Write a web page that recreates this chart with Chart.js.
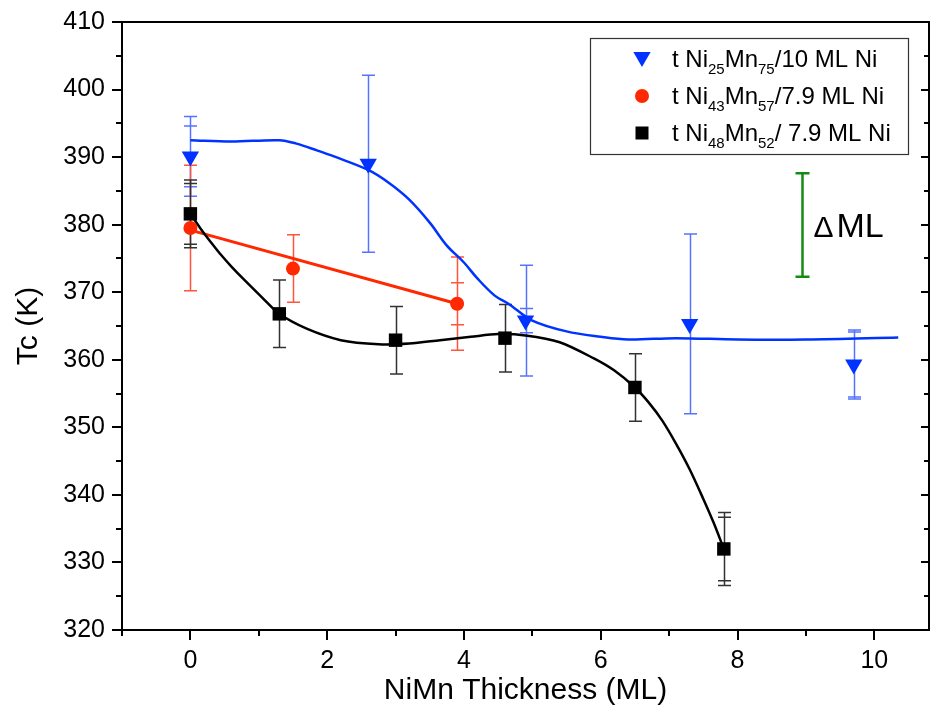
<!DOCTYPE html>
<html>
<head>
<meta charset="utf-8">
<script src="https://cdn.jsdelivr.net/npm/chart.js@4/dist/chart.umd.min.js"></script>
<style>
  html, body { margin: 0; padding: 0; background: #fff; }
  canvas { display: block; }
</style>
</head>
<body>
<canvas id="c" width="939" height="722"></canvas>
<script>
// ---------------- data ----------------
const xTickValues = [0, 2, 4, 6, 8, 10];
const xMinorTicks = [-1, 1, 3, 5, 7, 9];
const yTickValues = [320, 330, 340, 350, 360, 370, 380, 390, 400, 410];
const yMinorTicks = [325, 335, 345, 355, 365, 375, 385, 395, 405];

// t Ni25Mn75 / 10 ML Ni  (blue triangles)
const blueX    = [0, 2.6, 4.9, 7.3, 9.7];
const blueY    = [390.1, 389.0, 365.8, 365.3, 359.3];
const blueErr  = [5.9, 13.1, 8.2, 13.3, 5.1];
const blueErr2 = [4.5, 0, 1.8, 0, 4.8];

// t Ni43Mn57 / 7.9 ML Ni  (red circles)
const redX    = [0, 1.5, 3.9];
const redY    = [379.5, 373.5, 368.3];
const redErr  = [9.3, 5.0, 6.9];
const redErr2 = [0, 0, 3.1];

// t Ni48Mn52 / 7.9 ML Ni  (black squares)
const blackX    = [0, 1.3, 3.0, 4.6, 6.5, 7.8];
const blackY    = [381.6, 366.8, 362.9, 363.2, 355.9, 332.0];
const blackErr  = [5.0, 5.0, 5.0, 5.0, 5.0, 5.4];
const blackErr2 = [4.5, 0, 0, 0, 0, 4.7];

// guide-to-the-eye curves
const blueFitX = [0, 0.6, 1.3, 1.55, 1.85, 2.1, 2.6, 2.9, 3.2, 3.5, 3.75, 4.0, 4.2, 4.45, 4.65, 5.0, 5.5, 6.0, 6.4, 7.1, 8.0, 9.0, 10.35];
const blueFitY = [392.5, 392.3, 392.5, 392.0, 391.0, 390.1, 388.1, 386.2, 383.7, 380.3, 376.9, 374.4, 372.0, 369.5, 368.3, 365.8, 364.2, 363.4, 363.0, 363.2, 363.0, 363.0, 363.3];

const blackFitX = [0, 0.15, 0.3, 0.45, 0.6, 0.8, 1.05, 1.3, 1.7, 2.2, 2.75, 3.2, 3.65, 4.1, 4.5, 4.9, 5.4, 5.9, 6.2, 6.5, 6.7, 6.9, 7.1, 7.3, 7.5, 7.65, 7.8];
const blackFitY = [381.6, 379.4, 377.4, 375.5, 373.8, 371.7, 369.2, 366.8, 364.6, 362.9, 362.3, 362.4, 362.9, 363.4, 363.8, 363.6, 362.6, 360.2, 358.4, 355.9, 353.7, 351.0, 347.6, 343.8, 339.4, 335.9, 332.0];

const redFitX = [0, 3.9];
const redFitY = [379.2, 368.3];

// ΔML scale bar
const deltaX = 8.95;
const deltaRange = [372.3, 387.6];
const deltaLabel = ['Δ', 'ML'];

// legend labels: [normal, sub, normal, sub, normal]
const legendLabels = [
  ['t Ni', '25', 'Mn', '75', '/10 ML Ni'],
  ['t Ni', '43', 'Mn', '57', '/7.9 ML Ni'],
  ['t Ni', '48', 'Mn', '52', '/ 7.9 ML Ni']
];
const xTitle = 'NiMn Thickness (ML)';
const yTitle = 'Tc (K)';

// ---------------- styles ----------------
const BLUE = 'rgb(0,51,255)', BLUE_ERR = 'rgb(85,115,255)';
const RED = 'rgb(255,40,0)', RED_ERR = 'rgb(255,85,60)';
const BLACK = 'rgb(0,0,0)', BLACK_ERR = 'rgb(50,50,50)';
const GREEN = 'rgb(20,140,20)';
const FONT = "'Liberation Sans', Arial, sans-serif";

const pts = (xs, ys) => xs.map((x, i) => ({ x: x, y: ys[i] }));

const errSeries = [
  { xs: blueX, ys: blueY, e: blueErr, e2: blueErr2, color: BLUE_ERR },
  { xs: redX, ys: redY, e: redErr, e2: redErr2, color: RED_ERR },
  { xs: blackX, ys: blackY, e: blackErr, e2: blackErr2, color: BLACK_ERR }
];

const errorBarPlugin = {
  id: 'errorBars',
  beforeDatasetsDraw(chart) {
    const { ctx, scales: { x, y } } = chart;
    ctx.save();
    ctx.lineWidth = 1.5;
    const cap = 6.5;
    errSeries.forEach(s => {
      ctx.strokeStyle = s.color;
      s.xs.forEach((xv, i) => {
        const px = Math.round(x.getPixelForValue(xv)) + 0.5;
        const top = y.getPixelForValue(s.ys[i] + s.e[i]);
        const bot = y.getPixelForValue(s.ys[i] - s.e[i]);
        ctx.beginPath();
        ctx.moveTo(px, top); ctx.lineTo(px, bot);
        ctx.moveTo(px - cap, top); ctx.lineTo(px + cap, top);
        ctx.moveTo(px - cap, bot); ctx.lineTo(px + cap, bot);
        if (s.e2[i] > 0) {
          const t2 = y.getPixelForValue(s.ys[i] + s.e2[i]);
          const b2 = y.getPixelForValue(s.ys[i] - s.e2[i]);
          ctx.moveTo(px - cap, t2); ctx.lineTo(px + cap, t2);
          ctx.moveTo(px - cap, b2); ctx.lineTo(px + cap, b2);
        }
        ctx.stroke();
      });
    });
    ctx.restore();
  }
};

function drawMarker(ctx, type, cx, cy, color) {
  ctx.fillStyle = color;
  ctx.beginPath();
  if (type === 'tri') {
    const r = 10;
    ctx.moveTo(cx, cy + r);
    ctx.lineTo(cx - r * Math.sqrt(3) / 2, cy - r / 2);
    ctx.lineTo(cx + r * Math.sqrt(3) / 2, cy - r / 2);
    ctx.closePath();
  } else if (type === 'circle') {
    ctx.arc(cx, cy, 7, 0, Math.PI * 2);
  } else {
    ctx.rect(cx - 6.5, cy - 6.5, 13, 13);
  }
  ctx.fill();
}

const framePlugin = {
  id: 'frame',
  afterDraw(chart) {
    const { ctx, chartArea: a, scales: { x, y } } = chart;
    ctx.save();
    ctx.strokeStyle = '#000';
    ctx.lineWidth = 2;
    ctx.strokeRect(a.left, a.top, a.right - a.left, a.bottom - a.top);
    ctx.beginPath();
    xTickValues.forEach(v => {
      const px = Math.round(x.getPixelForValue(v));
      ctx.moveTo(px, a.bottom); ctx.lineTo(px, a.bottom + 10);
    });
    xMinorTicks.forEach(v => {
      const px = Math.round(x.getPixelForValue(v));
      ctx.moveTo(px, a.bottom); ctx.lineTo(px, a.bottom + 6);
    });
    yTickValues.forEach(v => {
      const py = Math.round(y.getPixelForValue(v));
      ctx.moveTo(a.left - 10, py); ctx.lineTo(a.left, py);
      ctx.moveTo(a.right - 8, py); ctx.lineTo(a.right, py);
    });
    yMinorTicks.forEach(v => {
      const py = Math.round(y.getPixelForValue(v));
      ctx.moveTo(a.left - 6, py); ctx.lineTo(a.left, py);
      ctx.moveTo(a.right - 5, py); ctx.lineTo(a.right, py);
    });
    ctx.stroke();

    // ΔML bar
    const dx = Math.round(x.getPixelForValue(deltaX)) + 0.5;
    const d1 = y.getPixelForValue(deltaRange[1]);
    const d0 = y.getPixelForValue(deltaRange[0]);
    ctx.strokeStyle = GREEN;
    ctx.lineWidth = 2.5;
    ctx.beginPath();
    ctx.moveTo(dx, d1); ctx.lineTo(dx, d0);
    ctx.moveTo(dx - 7, d1); ctx.lineTo(dx + 7, d1);
    ctx.moveTo(dx - 7, d0); ctx.lineTo(dx + 7, d0);
    ctx.stroke();
    ctx.fillStyle = '#000';
    ctx.textBaseline = 'alphabetic';
    ctx.font = '30px ' + FONT;
    const by = (d0 + d1) / 2 + 12;
    ctx.fillText(deltaLabel[0], dx + 11, by);
    const w0 = ctx.measureText(deltaLabel[0]).width;
    ctx.font = '34px ' + FONT;
    ctx.fillText(deltaLabel[1], dx + 11 + w0 + 3, by);

    // legend
    const L = 590, T = 38, R = 908, B = 154;
    ctx.strokeStyle = '#333';
    ctx.lineWidth = 1.2;
    ctx.strokeRect(L + 0.5, T + 0.5, R - L, B - T);
    const types = ['tri', 'circle', 'square'];
    const colors = [BLUE, RED, BLACK];
    const rows = [59, 96, 133];
    legendLabels.forEach((parts, i) => {
      drawMarker(ctx, types[i], 642, rows[i] + (i === 0 ? -2 : 0), colors[i]);
      let tx = 672;
      const base = rows[i] + 8;
      parts.forEach((p, k) => {
        const sub = k % 2 === 1;
        ctx.font = (sub ? '15px ' : '24px ') + FONT;
        ctx.fillStyle = '#000';
        ctx.fillText(p, tx, sub ? base + 7 : base);
        tx += ctx.measureText(p).width;
      });
    });
    ctx.restore();
  }
};

new Chart(document.getElementById('c'), {
  type: 'scatter',
  data: {
    datasets: [
      { data: pts(blueX, blueY), pointStyle: 'triangle', rotation: 180, pointRadius: 10, pointHoverRadius: 10,
        backgroundColor: BLUE, borderColor: BLUE, borderWidth: 0, showLine: false },
      { data: pts(redX, redY), pointStyle: 'circle', pointRadius: 7, pointHoverRadius: 7,
        backgroundColor: RED, borderColor: RED, borderWidth: 0, showLine: false },
      { data: pts(blackX, blackY), pointStyle: 'rect', pointRadius: 9.5, pointHoverRadius: 9.5,
        backgroundColor: BLACK, borderColor: BLACK, borderWidth: 0, showLine: false },
      { data: pts(blueFitX, blueFitY), showLine: true, pointRadius: 0, borderColor: BLUE, borderWidth: 2.5,
        tension: 0.35, fill: false },
      { data: pts(blackFitX, blackFitY), showLine: true, pointRadius: 0, borderColor: BLACK, borderWidth: 2.5,
        tension: 0.3, fill: false },
      { data: pts(redFitX, redFitY), showLine: true, pointRadius: 0, borderColor: RED, borderWidth: 3, fill: false }
    ]
  },
  options: {
    responsive: false,
    animation: false,
    devicePixelRatio: 1,
    events: [],
    layout: { padding: { left: 0, right: 7, top: 18, bottom: 0 } },
    plugins: { legend: { display: false }, tooltip: { enabled: false } },
    scales: {
      x: {
        type: 'linear', min: -1, max: 10.8,
        afterBuildTicks: s => { s.ticks = xTickValues.map(v => ({ value: v })); },
        afterFit: s => { s.height = 92; },
        grid: { display: true, drawOnChartArea: false, drawTicks: true, tickLength: 10, color: 'rgba(0,0,0,0)' },
        border: { display: false },
        ticks: { autoSkip: false, maxRotation: 0, padding: 6, color: '#000', font: { family: FONT, size: 25 } },
        title: { display: true, text: xTitle, color: '#000', font: { family: FONT, size: 30 }, padding: { top: 0, bottom: 13 } }
      },
      y: {
        type: 'linear', min: 320, max: 410,
        afterBuildTicks: s => { s.ticks = yTickValues.map(v => ({ value: v })); },
        afterFit: s => { s.width = 122; },
        grid: { display: true, drawOnChartArea: false, drawTicks: true, tickLength: 10, color: 'rgba(0,0,0,0)' },
        border: { display: false },
        ticks: { autoSkip: false, padding: 7, color: '#000', font: { family: FONT, size: 25 } },
        title: { display: true, text: yTitle, color: '#000', font: { family: FONT, size: 30 }, padding: { top: 11, bottom: 0 } }
      }
    }
  },
  plugins: [errorBarPlugin, framePlugin]
});
</script>
</body>
</html>
